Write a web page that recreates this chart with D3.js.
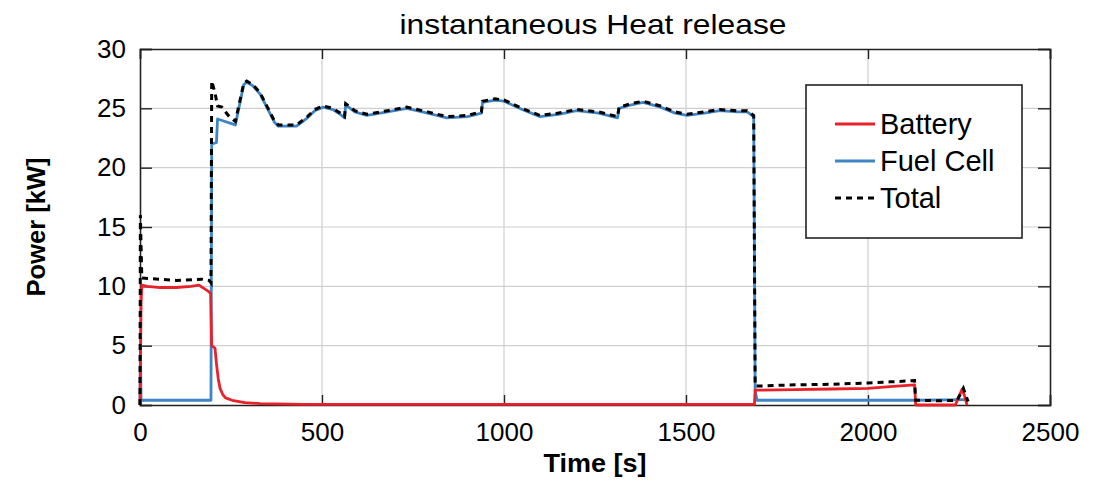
<!DOCTYPE html>
<html><head><meta charset="utf-8">
<script src="https://cdn.jsdelivr.net/npm/d3@7"></script>
<style>body{margin:0;background:#fff}svg{font-family:"Liberation Sans",Arial,sans-serif}</style>
</head><body><svg id="c" width="1106" height="482"></svg>
<script>
// Data (time in s, power in kW)
const fuelT = [0,1,3,195,197,210,213,262,285,293,310,330,350,370,380,430,460,480,503,530,550,562,565,590,623,680,733,790,843,900,938,941,975,1000,1050,1099,1150,1200,1260,1312,1316,1350,1382,1430,1470,1503,1550,1593,1640,1668,1686,1690,1695,1900,2130,2275];
const fuelV = [0,5,0.4,0.4,22.0,22.1,24.1,23.6,27.0,27.2,26.9,26.2,25.0,23.8,23.5,23.5,24.2,24.8,25.1,24.9,24.5,24.2,25.3,24.7,24.4,24.7,25.0,24.6,24.2,24.3,24.6,25.5,25.7,25.6,24.9,24.3,24.5,24.8,24.6,24.2,25.0,25.3,25.5,25.1,24.6,24.4,24.6,24.8,24.7,24.7,24.3,1.2,0.4,0.4,0.4,0.45];

const battT = [0,3,5,20,55,100,140,162,187,194,197,206,210,215,220,227,235,253,288,330,450,1000,1688,1690,1800,1900,2000,2060,2128,2131,2240,2258,2265,2272];
const battV = [0,8.6,10.1,10.0,9.9,9.9,10.0,10.1,9.6,9.4,5.0,4.8,3.5,2.2,1.4,0.9,0.6,0.4,0.2,0.12,0.06,0.05,0.05,1.25,1.3,1.35,1.4,1.55,1.7,0,0,1.3,0.8,0];

const totalT = [0,1,5,100,170,190,195,197,206,213,225,245,262,285,293,310,330,350,370,380,430,460,480,503,530,550,562,565,590,623,680,733,790,843,900,938,941,975,1000,1050,1099,1150,1200,1260,1312,1316,1350,1382,1430,1470,1503,1550,1593,1640,1668,1686,1690,1700,1800,1900,2000,2060,2128,2131,2200,2245,2262,2270,2275];
const totalV = [0,16,10.7,10.5,10.6,10.5,10.3,27.3,26.3,25.2,25.1,24.3,23.9,27.1,27.3,27.0,26.3,25.1,23.9,23.6,23.6,24.3,24.9,25.2,25.0,24.6,24.3,25.4,24.8,24.5,24.8,25.1,24.7,24.3,24.4,24.7,25.6,25.8,25.7,25.0,24.4,24.6,24.9,24.7,24.3,25.1,25.4,25.6,25.2,24.7,24.5,24.7,24.9,24.8,24.8,24.4,1.6,1.6,1.7,1.75,1.85,1.95,2.05,0.4,0.35,0.4,1.4,0.7,0.3];

const xTicks = [0,500,1000,1500,2000,2500];
const yTicks = [0,5,10,15,20,25,30];
const seriesNames = ["Battery","Fuel Cell","Total"];
const colors = {"Battery":"#e8222a","Fuel Cell":"#3d85c6","Total":"#000"};

const svg = d3.select("#c");
const L=140,R=1050,T=49,B=405;
const x = d3.scaleLinear().domain([0,2500]).range([L,R]);
const y = d3.scaleLinear().domain([0,30]).range([B,T]);

// grid
svg.append("g").selectAll("line").data(xTicks.slice(1,-1)).join("line")
  .attr("x1",d=>x(d)).attr("x2",d=>x(d)).attr("y1",T).attr("y2",B)
  .attr("stroke","#cfcfcf").attr("stroke-width",1.2);
svg.append("g").selectAll("line").data(yTicks.slice(1,-1)).join("line")
  .attr("y1",d=>y(d)).attr("y2",d=>y(d)).attr("x1",L).attr("x2",R)
  .attr("stroke","#cfcfcf").attr("stroke-width",1.2);

// axes with inner ticks
const ax = d3.axisBottom(x).tickValues(xTicks).tickSize(-10).tickPadding(18).tickFormat(d3.format("d"));
const ay = d3.axisLeft(y).tickValues(yTicks).tickSize(-12).tickPadding(14).tickFormat(d3.format("d"));
const gx = svg.append("g").attr("transform",`translate(0,${B})`).call(ax);
const gy = svg.append("g").attr("transform",`translate(${L},0)`).call(ay);
const gx2 = svg.append("g").attr("transform",`translate(0,${T})`).call(d3.axisTop(x).tickValues(xTicks).tickSize(-10).tickFormat(""));
const gy2 = svg.append("g").attr("transform",`translate(${R},0)`).call(d3.axisRight(y).tickValues(yTicks).tickSize(-12).tickFormat(""));
[gx,gy,gx2,gy2].forEach(g=>{
  g.select(".domain").attr("stroke","#222").attr("stroke-width",1.6);
  g.selectAll(".tick line").attr("stroke","#222").attr("stroke-width",1.4);
  g.selectAll("text").attr("font-size",26).attr("fill","#000").attr("font-family","Liberation Sans, Arial, sans-serif");
});

// lines
const mk = (T_,V_) => T_.map((t,i)=>[t,V_[i]]);
const line = d3.line().x(d=>x(d[0])).y(d=>y(d[1]));
const plot = svg.append("g");
plot.append("path").datum(mk(fuelT,fuelV)).attr("d",line).attr("fill","none")
  .attr("stroke",colors["Fuel Cell"]).attr("stroke-width",2.8).attr("stroke-linejoin","round");
plot.append("path").datum(mk(battT,battV)).attr("d",line).attr("fill","none")
  .attr("stroke",colors["Battery"]).attr("stroke-width",2.8).attr("stroke-linejoin","round");
plot.append("path").datum(mk(totalT,totalV)).attr("d",line).attr("fill","none")
  .attr("stroke",colors["Total"]).attr("stroke-width",3).attr("stroke-dasharray","6,5");

// title & labels
svg.append("text").attr("x",593).attr("y",34).attr("text-anchor","middle")
  .attr("font-size",28).attr("textLength",387).attr("lengthAdjust","spacingAndGlyphs")
  .text("instantaneous Heat release");
svg.append("text").attr("x",595).attr("y",472).attr("text-anchor","middle")
  .attr("font-size",26).attr("font-weight","bold").attr("textLength",103).attr("lengthAdjust","spacingAndGlyphs")
  .text("Time [s]");
svg.append("text").attr("transform","translate(45,227) rotate(-90)").attr("text-anchor","middle")
  .attr("font-size",25).attr("font-weight","bold").attr("textLength",139).attr("lengthAdjust","spacingAndGlyphs")
  .text("Power [kW]");

// legend
const lg = svg.append("g");
lg.append("rect").attr("x",806).attr("y",85).attr("width",216).attr("height",153)
  .attr("fill","#fff").attr("stroke","#222").attr("stroke-width",1.6);
seriesNames.forEach((n,i)=>{
  const yy = 124 + i*37;
  lg.append("line").attr("x1",835).attr("x2",875).attr("y1",yy).attr("y2",yy)
    .attr("stroke",colors[n]).attr("stroke-width",n==="Total"?3:2.8)
    .attr("stroke-dasharray",n==="Total"?"6,5":null);
  lg.append("text").attr("x",880).attr("y",yy+10).attr("font-size",29).text(n);
});
</script></body></html>
